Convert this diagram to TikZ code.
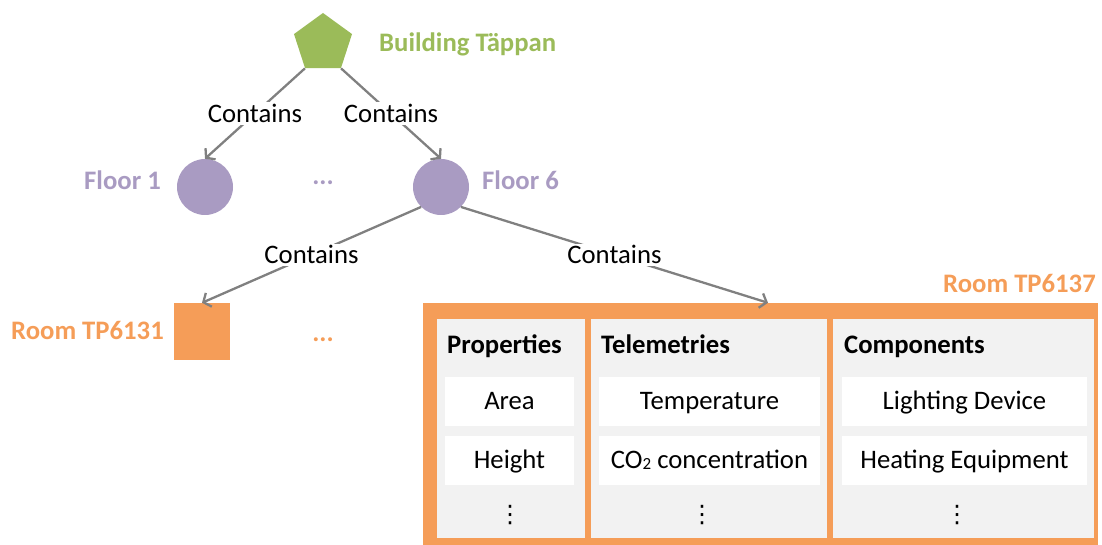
\documentclass[tikz,border=0pt]{standalone}
\usepackage{fontspec}
\setmainfont{Carlito}
\newfontfamily\symfont{DejaVu Sans}
\usetikzlibrary{shapes.geometric,arrows.meta,calc}
\definecolor{cgreen}{HTML}{9BBB59}
\definecolor{cpurple}{HTML}{A99BC2}
\definecolor{corange}{HTML}{F59D58}
\definecolor{cgray}{HTML}{808080}
\definecolor{cpanel}{HTML}{F2F2F2}
\newcommand\fs{\fontsize{26.7}{32}\selectfont}
\tikzset{
  edge/.style={draw=cgray, line width=2.3pt, -{Straight Barb[length=6pt,width=15pt]}},
  lbl/.style={fill=white, inner sep=2pt, font=\fs, text=black},
  title/.style={inner sep=0pt, font=\fs\bfseries},
  panel/.style={fill=cpanel, inner sep=0pt},
  item/.style={fill=white, inner sep=0pt, minimum height=49pt, font=\fs, text height=18.5pt, text depth=3.5pt},
  vdot/.style={inner sep=0pt, font=\symfont\fontsize{24}{24}\selectfont}
}
\begin{document}
\begin{tikzpicture}[x=1pt,y=-1pt]
\useasboundingbox (0,0) rectangle (1102,545);
% building
\node[regular polygon, regular polygon sides=5, minimum size=61pt, inner sep=0pt, fill=cgreen] (b) at (323,43.5) {};
\node[title, text=cgreen, anchor=base west] (bl) at (379,52) {Building Täppan};
% floors
\node[circle, fill=cpurple, minimum size=56pt, inner sep=0pt] (f1) at (205,187) {};
\node[circle, fill=cpurple, minimum size=56pt, inner sep=0pt] (f6) at (441,187) {};
\node[title, text=cpurple, anchor=base east] (f1l) at (161,190) {Floor 1};
\node[title, text=cpurple, anchor=base west] (f6l) at (482,190) {Floor 6};
\node[title, text=cpurple, anchor=base] (fd) at (323,185) {...};
% rooms
\node[fill=corange, minimum width=56pt, minimum height=57pt, inner sep=0pt] (r1) at (202,331.5) {};
\node[title, text=corange, anchor=base east] (r1l) at (164,339) {Room TP6131};
\node[title, text=corange, anchor=base] (rd) at (323,341) {...};
\node[fill=corange, minimum width=675pt, minimum height=243pt, inner sep=0pt] (room) at (760.5,424.5) {};
\node[title, text=corange, anchor=base east] (rl) at (1096,292) {Room TP6137};
% panels
\node[panel, minimum width=148pt, minimum height=219pt] (p1) at (511,428.5) {};
\node[panel, minimum width=236pt, minimum height=219pt] (p2) at (709,428.5) {};
\node[panel, minimum width=261pt, minimum height=219pt] (p3) at (963.5,428.5) {};
\node[title, text=black, anchor=base west] (h1) at (447,353) {Properties};
\node[title, text=black, anchor=base west] (h2) at (601,353) {Telemetries};
\node[title, text=black, anchor=base west] (h3) at (844,353) {Components};
\node[item, minimum width=129pt] (a1) at (509.5,401.5) {Area};
\node[item, minimum width=129pt] (a2) at (509.5,460.5) {Height};
\node[item, minimum width=221pt] (t1) at (709.5,401.5) {Temperature};
\node[item, minimum width=221pt] (t2) at (709.5,460.5) {CO\raisebox{-1pt}{\fontsize{17}{17}\selectfont 2} concentration};
\node[item, minimum width=245pt] (c1) at (964.5,401.5) {Lighting Device};
\node[item, minimum width=245pt] (c2) at (964.5,460.5) {Heating Equipment};
\node[vdot] (d1) at (510,515) {⋮};
\node[vdot] (d2) at (702,515) {⋮};
\node[vdot] (d3) at (957,515) {⋮};
% edges
\draw[edge] (b.corner 3) -- node[lbl] {Contains} (f1.north);
\draw[edge] (b.corner 4) -- node[lbl] {Contains} (f6.north);
\draw[edge] (f6.south west) -- node[lbl] {Contains} (r1.north);
\draw[edge] (f6.south east) -- node[lbl] {Contains} ([xshift=7.5pt]room.north);
\end{tikzpicture}
\end{document}
